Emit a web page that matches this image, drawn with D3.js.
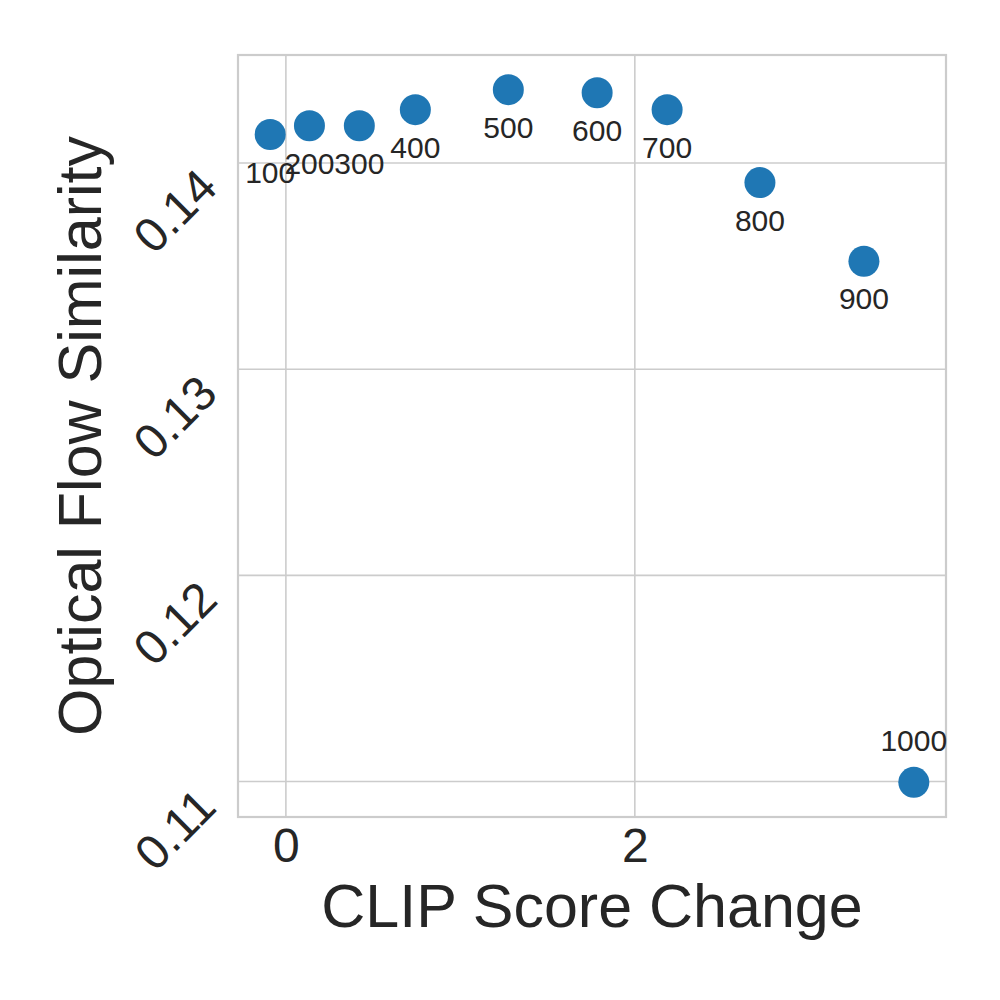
<!DOCTYPE html>
<html>
<head>
<meta charset="utf-8">
<script src="https://cdn.jsdelivr.net/npm/d3@7"></script>
<style>
  html, body { margin: 0; padding: 0; background: #ffffff; }
  svg { display: block; }
  text { font-family: "Liberation Sans", Arial, sans-serif; fill: #262626; }
</style>
</head>
<body>
<script>
// ---- data ----
const stepLabels = ["100", "200", "300", "400", "500", "600", "700", "800", "900", "1000"];
const clipScoreChange = [-0.090, 0.135, 0.421, 0.742, 1.275, 1.784, 2.185, 2.717, 3.313, 3.599];
const opticalFlowSim = [0.14138, 0.14181, 0.14181, 0.14259, 0.14356, 0.14341, 0.14259, 0.13905, 0.13524, 0.10996];
const xTicks = [0, 2];
const yTicks = [0.11, 0.12, 0.13, 0.14];
const labelAbove = ["1000"];

// ---- layout ----
const W = 1000, H = 1000;
const pLeft = 238, pRight = 946, pTop = 55, pBottom = 817;

const svg = d3.select("body").append("svg").attr("width", W).attr("height", H);

function padded(ext) {
  const m = (ext[1] - ext[0]) * 0.05;
  return [ext[0] - m, ext[1] + m];
}
const x = d3.scaleLinear().domain(padded(d3.extent(clipScoreChange))).range([pLeft, pRight]);
const y = d3.scaleLinear().domain(padded(d3.extent(opticalFlowSim))).range([pBottom, pTop]);

// grid
const g = svg.append("g");
g.selectAll(".gx").data(xTicks).join("line")
  .attr("x1", d => x(d)).attr("x2", d => x(d))
  .attr("y1", pTop).attr("y2", pBottom)
  .attr("stroke", "#cccccc").attr("stroke-width", 1.6);
g.selectAll(".gy").data(yTicks).join("line")
  .attr("x1", pLeft).attr("x2", pRight)
  .attr("y1", d => y(d)).attr("y2", d => y(d))
  .attr("stroke", "#cccccc").attr("stroke-width", 1.6);

// spines
svg.append("rect")
  .attr("x", pLeft).attr("y", pTop)
  .attr("width", pRight - pLeft).attr("height", pBottom - pTop)
  .attr("fill", "none").attr("stroke", "#cccccc").attr("stroke-width", 2.2);

// x tick labels
const xAxis = d3.axisBottom(x).tickValues(xTicks).tickSize(0).tickPadding(0).tickFormat(d3.format("d"));
const xg = svg.append("g").attr("transform", `translate(0,${pBottom})`).call(xAxis);
xg.select(".domain").remove();
xg.selectAll("text")
  .attr("y", 45).attr("dy", null)
  .style("font-size", "48px")
  .style("font-family", "'Liberation Sans', Arial, sans-serif")
  .attr("fill", "#262626");

// y tick labels (rotated)
const yAxis = d3.axisLeft(y).tickValues(yTicks).tickSize(0).tickFormat(d3.format(".2f"));
const yg = svg.append("g").call(yAxis);
yg.select(".domain").remove();
yg.selectAll(".tick").attr("transform", null);
yg.selectAll(".tick text")
  .attr("x", null).attr("dy", null)
  .attr("text-anchor", "middle")
  .attr("dominant-baseline", "central")
  .attr("transform", d => `translate(175,${y(d) + 48}) rotate(-45)`)
  .style("font-size", "48px")
  .style("font-family", "'Liberation Sans', Arial, sans-serif")
  .attr("fill", "#262626");

// axis titles
svg.append("text")
  .attr("x", (pLeft + pRight) / 2).attr("y", 927)
  .attr("text-anchor", "middle")
  .style("font-size", "61px")
  .text("CLIP Score Change");
svg.append("text")
  .attr("transform", `translate(101,${(pTop + pBottom) / 2}) rotate(-90)`)
  .attr("text-anchor", "middle")
  .style("font-size", "61px")
  .text("Optical Flow Similarity");

// points
const pts = stepLabels.map((s, i) => ({ s, cx: clipScoreChange[i], fy: opticalFlowSim[i] }));
svg.append("g").selectAll("circle").data(pts).join("circle")
  .attr("cx", d => x(d.cx)).attr("cy", d => y(d.fy))
  .attr("r", 15.5).attr("fill", "#1f77b4");

// point labels
svg.append("g").selectAll("text").data(pts).join("text")
  .attr("x", d => x(d.cx))
  .attr("y", d => y(d.fy) + (labelAbove.includes(d.s) ? -31 : 48))
  .attr("text-anchor", "middle")
  .style("font-size", "30px")
  .text(d => d.s);
</script>
</body>
</html>
